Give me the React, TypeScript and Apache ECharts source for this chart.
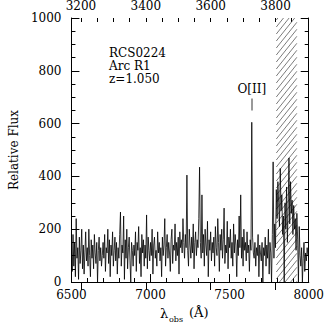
import React, { useEffect, useRef } from "react";
import * as echarts from "echarts";

const LAMBDA_START = 6500;
const LAMBDA_STEP = 5;
const REDSHIFT = 1.05;
const OBS_MIN = 6500;
const OBS_MAX = 8000;
const FLUX_MIN = 0;
const FLUX_MAX = 1000;

const FLUX = [
  110, 40, 180, 60, 150, 20, 240, 90, 130, 10, 170, 70, 120, 200, 50, 140, 30, 110, 190, 80,
  130, 60, 200, 100, 20, 160, 90, 140, 50, 180, 110, 70, 150, 0, 120, 170, 80, 130, 60, 100,
  150, 90, 180, 40, 130, 110, 200, 70, 160, 20, 140, 100, 190, 60, 120, 170, 80, 150, 30, 130,
  90, 180, 265, 60, 140, 110, 250, 10, 160, 90, 200, 50, 130, 170, 80, 0, 150, 120, 60, 140,
  100, 190, 40, 150, 120, 210, 70, 130, 20, 180, 110, 160, 60, 140, 90, 254, 50, 170, 120, 80,
  150, 100, 200, 30, 140, 170, 90, 120, 60, 190, 110, 150, 80, 130, 20, 170, 100, 140, 240, 60,
  130, 180, 90, 150, 110, 40, 160, 200, 70, 140, 120, 220, 80, 150, 100, 170, 30, 190, 130, 160,
  110, 240, 150, 90, 180, 130, 405, 120, 60, 200, 140, 90, 170, 110, 220, 50, 150, 190, 100, 160,
  130, 240, 435, 150, 90, 330, 110, 180, 60, 200, 140, 100, 230, 20, 160, 120, 190, 80, 150, 110,
  170, 60, 210, 130, 100, 240, 150, 40, 180, 120, 200, 90, 160, 280, 70, 140, 110, 230, 50, 170,
  130, 200, 90, 150, 60, 220, 110, 180, 140, 20, 160, 100, 250, 130, 330, 90, 170, 60, 200, 120,
  150, 80, 190, 110, 140, 40, 160, 120, 605, 170, 110, 90, 150, 60, 130, 100, 180, 20, 140, 110,
  80, 150, 0, 130, 100, 170, 60, 140, 90, 200, 30, 150, 110, 0, 180, 455, 90, 220, 130, 350,
  240, 380, 300, 210, 430, 270, 330, 180, 250, 0, 300, 200, 360, 150, 280, 470, 220, 380, 260, 310,
  180, 290, 200, 240, 120, 260, 160, 0, 210, 100, 60, 130, 0, 90, 150, 40, 110, 80, 130, 100,
];

const HATCH_REGION = [7795, 7925];
const OII_LAMBDA = 7640;
const OII_MARK = [650, 695];

const BOTTOM_TICK_INTERVAL = 500;
const FLUX_TICK_INTERVAL = 200;
const REST_MAJOR_TICKS = [3200, 3400, 3600, 3800];
const REST_MINOR_TICKS = [3200, 3250, 3300, 3350, 3400, 3450, 3500, 3550, 3600, 3650, 3700, 3750, 3800, 3850, 3900];

const INFO_LINES = ["RCS0224", "Arc R1", "z=1.050"];

const FONT = "DejaVu Serif";

export default function App() {
  const ref = useRef<HTMLDivElement>(null);
  useEffect(() => {
    document.body.style.margin = "0";
    const chart = echarts.init(ref.current!, null, { renderer: "svg" });
    const spectrum = FLUX.map((f, i) => [LAMBDA_START + i * LAMBDA_STEP, f]);
    const restMin = OBS_MIN / (1 + REDSHIFT);
    const restMax = OBS_MAX / (1 + REDSHIFT);
    const axisLine = { show: true, lineStyle: { color: "#000", width: 1 } };
    const plain = (v: number) => String(Math.round(v));
    const labelStyle = { color: "#000", fontFamily: FONT, fontSize: 12, formatter: plain };
    chart.setOption({
      animation: false,
      backgroundColor: "#fff",
      grid: { left: 65, top: 17, right: 18, bottom: 45 },
      xAxis: [
        {
          type: "value",
          position: "bottom",
          min: OBS_MIN,
          max: OBS_MAX,
          interval: BOTTOM_TICK_INTERVAL,
          axisLine,
          axisTick: { show: true, inside: true, length: 8, lineStyle: { color: "#000" } },
          minorTick: { show: true, splitNumber: 5, length: 4, lineStyle: { color: "#000" } },
          splitLine: { show: false },
          axisLabel: { ...labelStyle, margin: 7 },
        },
        {
          type: "value",
          position: "top",
          min: restMin,
          max: restMax,
          axisLine,
          axisTick: { show: true, inside: true, length: 8, customValues: REST_MAJOR_TICKS, lineStyle: { color: "#000" } },
          axisLabel: { ...labelStyle, margin: 6, customValues: REST_MAJOR_TICKS },
          splitLine: { show: false },
        },
        {
          type: "value",
          position: "top",
          offset: 0,
          min: restMin,
          max: restMax,
          axisLine: { show: false },
          axisTick: { show: true, inside: true, length: 4, customValues: REST_MINOR_TICKS, lineStyle: { color: "#000" } },
          axisLabel: { show: false },
          splitLine: { show: false },
        },
      ],
      yAxis: [
        {
          type: "value",
          position: "left",
          min: FLUX_MIN,
          max: FLUX_MAX,
          interval: FLUX_TICK_INTERVAL,
          name: "Relative Flux",
          nameLocation: "middle",
          nameGap: 40,
          nameTextStyle: { color: "#000", fontFamily: FONT, fontSize: 12 },
          axisLine,
          axisTick: { show: true, inside: true, length: 8, lineStyle: { color: "#000" } },
          minorTick: { show: true, splitNumber: 4, length: 4, lineStyle: { color: "#000" } },
          splitLine: { show: false },
          axisLabel: { ...labelStyle, margin: 10 },
        },
        {
          type: "value",
          position: "right",
          min: FLUX_MIN,
          max: FLUX_MAX,
          interval: FLUX_TICK_INTERVAL,
          axisLine,
          axisTick: { show: true, inside: true, length: 8, lineStyle: { color: "#000" } },
          minorTick: { show: true, splitNumber: 4, length: 4, lineStyle: { color: "#000" } },
          splitLine: { show: false },
          axisLabel: { show: false },
        },
      ],
      series: [
        {
          type: "custom",
          coordinateSystem: "cartesian2d",
          xAxisIndex: 0,
          yAxisIndex: 0,
          encode: { x: [0, 1] },
          data: [HATCH_REGION],
          z: 1,
          silent: true,
          renderItem: (params: any, api: any) => {
            const p1 = api.coord([api.value(0), FLUX_MAX]);
            const p2 = api.coord([api.value(1), FLUX_MIN]);
            const x1 = p1[0], x2 = p2[0], yT = p1[1], yB = p2[1];
            const k = 1.25;
            const sp = 7;
            const children: any[] = [];
            for (let c = yT + 2; c <= yB + k * (x2 - x1); c += sp) {
              const xa = Math.max(x1, x1 + (c - yB) / k);
              const xb = Math.min(x2, x1 + (c - yT) / k);
              if (xb > xa) {
                children.push({
                  type: "line",
                  shape: { x1: xa, y1: c - k * (xa - x1), x2: xb, y2: c - k * (xb - x1) },
                  style: { stroke: "#444", lineWidth: 0.7 },
                });
              }
            }
            return { type: "group", children };
          },
        },
        {
          type: "line",
          xAxisIndex: 0,
          yAxisIndex: 0,
          data: spectrum,
          showSymbol: false,
          symbol: "none",
          z: 2,
          lineStyle: { color: "#000", width: 0.8 },
          markLine: {
            silent: true,
            symbol: "none",
            animation: false,
            lineStyle: { color: "#777", width: 1.5, type: "solid" },
            label: {
              show: true,
              position: "end",
              formatter: "O[II]",
              color: "#000",
              fontFamily: FONT,
              fontSize: 12,
              distance: 4,
            },
            data: [[{ coord: [OII_LAMBDA, OII_MARK[0]] }, { coord: [OII_LAMBDA, OII_MARK[1]] }]],
          },
        },
      ],
      graphic: [
        ...INFO_LINES.map((t, i) => ({
          type: "text",
          left: 109,
          top: 47 + i * 13,
          style: { text: t, fill: "#000", font: `12px "${FONT}"` },
        })),
        { type: "text", left: 160, top: 307, style: { text: "λ", fill: "#000", font: `13px "${FONT}"` } },
        { type: "text", left: 169, top: 315, style: { text: "obs", fill: "#000", font: `8px "${FONT}"` } },
        { type: "text", left: 189, top: 306, style: { text: "(Å)", fill: "#000", font: `13px "${FONT}"` } },
      ],
    });
    return () => chart.dispose();
  }, []);
  return <div ref={ref} style={{ width: 327, height: 327 }} />;
}
